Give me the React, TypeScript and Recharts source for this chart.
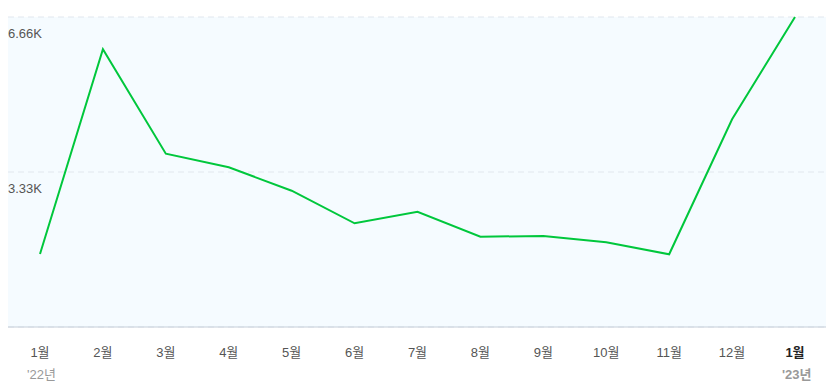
import React from "react";
import { LineChart, Line, XAxis, YAxis, CartesianGrid } from "recharts";

const months = ["1월", "2월", "3월", "4월", "5월", "6월", "7월", "8월", "9월", "10월", "11월", "12월", "1월"];
const years = ["'22년", "", "", "", "", "", "", "", "", "", "", "", "'23년"];
const values = [1568, 5966, 3723, 3431, 2928, 2228, 2477, 1940, 1955, 1820, 1562, 4462, 6660];
const yTicks = [3330, 6660];
const yTickLabels = ["3.33K", "6.66K"];

const data = months.map((m, i) => ({ key: i, month: m, year: years[i], value: values[i] }));

const FONT = "'Liberation Sans', 'Noto Sans CJK KR', sans-serif";

const XTick = (props: any) => {
  const { x, y, payload } = props;
  const i = payload.index ?? payload.value;
  const d = data[i];
  const last = i === data.length - 1;
  return (
    <g>
      <text x={x} y={y + 22} textAnchor="middle" fontSize={13} fontFamily={FONT}
        fill={last ? "#222" : "#555"} fontWeight={last ? 700 : 400}>
        {d.month}
      </text>
      {d.year ? (
        <text x={x - 13} y={y + 44} textAnchor="start" fontSize={13} fontFamily={FONT}
          fill="#999" fontWeight={last ? 700 : 400}>
          {d.year}
        </text>
      ) : null}
    </g>
  );
};

const YTick = (props: any) => {
  const { y, payload } = props;
  const idx = yTicks.indexOf(payload.value);
  return (
    <text x={8} y={y + 20.5} textAnchor="start" fontSize={13} fontFamily={FONT} fill="#555">
      {yTickLabels[idx]}
    </text>
  );
};

export default function App() {
  return (
    <div style={{ position: "absolute", left: 0, top: 0 }}>
      <LineChart width={832} height={389} data={data} margin={{ top: 17, right: 6, left: 7, bottom: 0 }}>
        <CartesianGrid vertical={false} stroke="#e1e7ee" strokeDasharray="6 4" fill="#f5fbff" />
        <XAxis dataKey="key" padding={{ left: 32, right: 31 }} interval={0} tickLine={false}
          axisLine={{ stroke: "#c5ced8" }} height={62} tick={<XTick />} />
        <YAxis width={1} domain={[0, 6660]} ticks={yTicks} axisLine={false} tickLine={false}
          tick={<YTick />} interval={0} />
        <Line type="linear" dataKey="value" stroke="#00c73c" strokeWidth={2} dot={false}
          activeDot={false} isAnimationActive={false} />
      </LineChart>
    </div>
  );
}
